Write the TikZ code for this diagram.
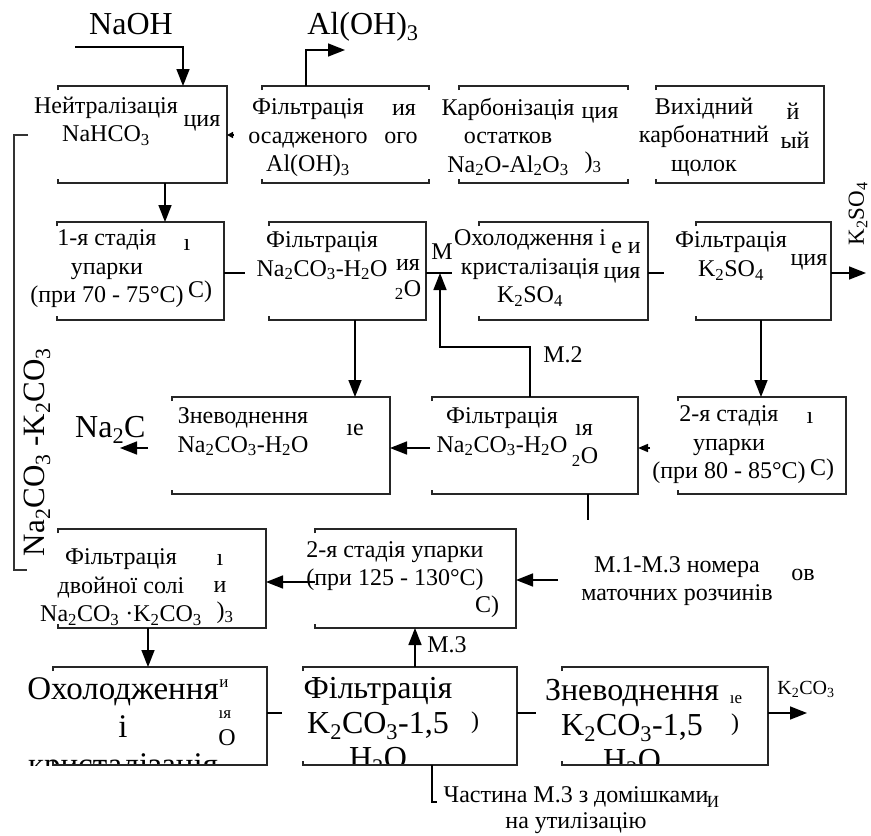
\documentclass[tikz,border=0pt]{standalone}
\usepackage{fontspec}
\setmainfont{Liberation Serif}
\usetikzlibrary{arrows.meta,fit}
\newcommand\sbs[1]{\textsubscript{#1}}
\tikzset{
 frame/.style={inner sep=0pt, outer sep=0pt, draw=none},
 bx/.style={line width=1.1pt, draw=black!85},
 ln/.style={line width=1.6pt, draw=black},
 ar/.style={ln, -{Triangle[length=17pt,width=13pt]}},
 sar/.style={ln, -{Triangle[length=10pt,width=8pt]}},
 tx/.style={inner sep=0pt, align=center, font=\fontsize{24}{28.5}\selectfont},
 big/.style={inner sep=0pt, align=center, font=\fontsize{32}{36}\selectfont},
 frag/.style={inner sep=0pt, font=\fontsize{24}{26}\selectfont},
 sfrag/.style={inner sep=0pt, font=\fontsize{17}{20}\selectfont},
}
\newcommand\boxL[1]{%
 \draw[bx] ([yshift=-4pt]#1.north west) -- (#1.north west) -- (#1.north east) -- (#1.south east) -- (#1.south west) -- ([yshift=4pt]#1.south west);}
\newcommand\boxLR[1]{%
 \draw[bx] ([yshift=-4pt]#1.north west) -- (#1.north west) -- (#1.north east) -- ([yshift=-4pt]#1.north east);
 \draw[bx] ([yshift=4pt]#1.south west) -- (#1.south west) -- (#1.south east) -- ([yshift=4pt]#1.south east);}
\begin{document}
\begin{tikzpicture}[x=1pt,y=-1pt]
\fill[white] (0,0) rectangle (871,836);
\useasboundingbox (0,0) rectangle (871,836);

% ---------- box frames ----------
\node[frame, fit={(58,86)(227,183)}] (b1) {};
\node[frame, fit={(262,86)(429,183)}] (b2) {};
\node[frame, fit={(459,86)(628,183)}] (b3) {};
\node[frame, fit={(656,86)(824,183)}] (b4) {};
\node[frame, fit={(57,222)(224,320)}] (r2a) {};
\node[frame, fit={(269,222)(426,320)}] (r2b) {};
\node[frame, fit={(479,222)(648,320)}] (r2c) {};
\node[frame, fit={(696,222)(831,320)}] (r2d) {};
\node[frame, fit={(172,397)(390,494)}] (r3a) {};
\node[frame, fit={(432,397)(638,494)}] (r3b) {};
\node[frame, fit={(678,397)(846,494)}] (r3c) {};
\node[frame, fit={(58,529)(266,628)}] (r4a) {};
\node[frame, fit={(315,529)(516,628)}] (r4b) {};
\node[frame, fit={(53,667)(267,765)}] (r5a) {};
\node[frame, fit={(303,667)(517,765)}] (r5b) {};
\node[frame, fit={(562,667)(768,765)}] (r5c) {};

% ---------- texts ----------
\node[big] (naoh) at (131,24) {NaOH};
\node[big] (aloh) at (363,27) {Al(OH)\sbs{3}};

\node[tx] (tb1) at (106,121) {Нейтралізація\\NaHCO\sbs{3}};
\node[tx] (tb2) at (308,138) {Фільтрація\\осадженого\\Al(OH)\sbs{3}};
\node[tx] (tb3) at (508,137) {Карбонізація\\остатков\\Na\sbs{2}O-Al\sbs{2}O\sbs{3}};
\node[tx] (tb4) at (704,137) {Вихідний\\карбонатний\\щолок};

\node[tx] (tr2a) at (107,269) {1-я стадія\\упарки\\(при 70 - 75°С)};
\node[tx] (tr2b) at (322,256) {Фільтрація\\Na\sbs{2}CO\sbs{3}-H\sbs{2}O};
\node[tx] (tr2c) at (530,268) {Охолодження і\\кристалізація\\K\sbs{2}SO\sbs{4}};
\node[tx] (tr2d) at (731,256) {Фільтрація\\K\sbs{2}SO\sbs{4}};

\node[tx] (tr3a) at (243,432) {Зневоднення\\Na\sbs{2}CO\sbs{3}-H\sbs{2}O};
\node[tx] (tr3b) at (502,432) {Фільтрація\\Na\sbs{2}CO\sbs{3}-H\sbs{2}O};
\node[tx] (tr3c) at (729,445) {2-я стадія\\упарки\\(при 80 - 85°С)};

\node[tx] (tr4a) at (121,587) {Фільтрація\\двойної солі\\Na\sbs{2}CO\sbs{3} ·K\sbs{2}CO\sbs{3}};
\node[tx] (tr4b) at (395,566) {2-я стадія упарки\\(при 125 - 130°С)};
\node[tx] (tm) at (677,581) {М.1-М.3 номера\\маточних розчинів};

\begin{scope}
\clip (0,667) rectangle (871,765);
\node[big, font=\fontsize{33}{38}\selectfont] (tr5a) at (123,730) {Охолодження\\і\\кристалізація};
\node[big, font=\fontsize{32}{35}\selectfont] (tr5b) at (378,726) {Фільтрація\\K\sbs{2}CO\sbs{3}-1,5\\H\sbs{2}O};
\node[big, font=\fontsize{32}{35}\selectfont] (tr5c) at (632,728) {Зневоднення\\K\sbs{2}CO\sbs{3}-1,5\\H\sbs{2}O};
\end{scope}

\node[tx, font=\fontsize{24}{26}\selectfont] (tch) at (576,810) {Частина М.3 з домішками\\на утилізацію};

\node[frag] (mlab) at (442,252) {М};
\node[frag] (m2) at (563,355) {М.2};
\node[frag] (m3) at (447,645) {М.3};
\node[inner sep=0pt, font=\fontsize{20}{24}\selectfont] (k2co3) at (806,689) {K\sbs{2}CO\sbs{3}};
\node[inner sep=0pt, rotate=90, font=\fontsize{23}{26}\selectfont] (k2so4) at (858,214) {K\sbs{2}SO\sbs{4}};
\node[inner sep=0pt, rotate=90, font=\fontsize{31}{36}\selectfont] (nak) at (37,452) {Na\sbs{2}CO\sbs{3} -K\sbs{2}CO\sbs{3}};
\node[inner sep=0pt, anchor=west, font=\fontsize{32}{36}\selectfont] (na2c) at (75,430) {Na\sbs{2}C};

% ---------- leftover fragments ----------
\node[frag] (f1) at (202,123) {ция};
\node[frag] (f2) at (404,110) {ия};
\node[frag] (f3) at (401,138) {ого};
\node[frag] (f4) at (600,115) {ция};
\node[frag] (f5) at (593,163) {)\sbs{3}};
\node[frag] (f6) at (793,111) {й};
\node[frag] (f7) at (795,140) {ый};
\node[frag] (f8) at (187,245) {ı};
\node[frag] (f9) at (200,292) {С)};
\node[frag] (f10) at (408,265) {ия};
\node[frag] (f11) at (408,290) {\sbs{2}O};
\node[frag] (f12) at (626,248) {е и};
\node[frag] (f13) at (622,275) {ция};
\node[frag] (f14) at (809,262) {ция};
\node[frag] (f15) at (355,430) {ıе};
\node[frag] (f16) at (584,430) {ıя};
\node[frag] (f17) at (585,457) {\sbs{2}O};
\node[frag] (f18) at (810,418) {ı};
\node[frag] (f19) at (822,470) {С)};
\node[frag] (f20) at (220,560) {ı};
\node[frag] (f21) at (220,587) {и};
\node[frag] (f22) at (225,613) {)\sbs{3}};
\node[frag] (f23) at (487,607) {С)};
\node[frag] (f24) at (803,575) {ов};
\node[sfrag] (f25) at (224,684) {и};
\node[sfrag] (f26) at (225,715) {ıя};
\node[frag] (f27) at (227,738) {О};
\node[frag] (f28) at (475,723) {)};
\node[sfrag] (f29) at (736,700) {ıе};
\node[frag] (f30) at (735,725) {)};
\node[sfrag] (f31) at (713,802) {И};

% ---------- frames drawn ----------
\boxL{b1}
\boxLR{b2}
\boxLR{b3}
\boxL{b4}
\boxL{r2a}
\boxL{r2b}
\boxL{r2c}
\boxL{r2d}
\boxL{r3a}
\boxL{r3b}
\boxL{r3c}
\boxL{r4a}
\boxL{r4b}
\boxL{r5a}
\boxL{r5b}
\boxL{r5c}

% ---------- connector end points ----------
\coordinate (naohS) at (75,47);
\coordinate (alohE) at (345,50);
\coordinate (naOut) at (120,448);
\coordinate (k2so4E) at (866,273);
\coordinate (k2co3E) at (807,713);
\coordinate (loopS) at (28,135);
\coordinate (loopE) at (27,570);
\coordinate (chS) at (437,802);

% ---------- connectors ----------
\draw[ar] (naohS) -- (183,47) -- (b1.north -| 183,0);
\draw[ar] (b2.north -| 306,0) -- (306,50) -- (alohE);
\draw[ln, -{Triangle[length=6pt,width=6pt]}] (233,135) -- (b1.east |- 0,135);
\draw[ln, line width=1.3pt, draw=black!80] (loopS) -- (14,135) -- (14,570) -- (loopE);
\draw[ar] (b1.south -| 165,0) -- (r2a.north -| 165,0);
\draw[ln] (r2a.east |- 0,273) -- (245,273);
\draw[ln] (r2b.east |- 0,273) -- (452,273);
\draw[ar] (r3b.north -| 530,0) -- (530,347) -- (440,347) -- (440,273);
\draw[ln] (r2c.east |- 0,273) -- (664,273);
\draw[ar] (r2d.east |- 0,273) -- (k2so4E);
\draw[ar] (r2d.south -| 761,0) -- (r3c.north -| 761,0);
\draw[ar] (r2b.south -| 355,0) -- (r3a.north -| 355,0);
\draw[ar] (430,448) -- (r3a.east |- 0,448);
\draw[ar] (148,448) -- (naOut);
\draw[sar] (650,448) -- (r3b.east |- 0,448);
\draw[ln, line width=1.3pt] (r3b.south -| 588,0) -- (588,520);
\draw[ar] (r4b.west |- 0,582) -- (r4a.east |- 0,582);
\draw[ar] (558,580) -- (r4b.east |- 0,580);
\draw[ar] (r4a.south -| 148,0) -- (r5a.north -| 148,0);
\draw[ln] (r5a.east |- 0,713) -- (282,713);
\draw[ar] (r5b.north -| 415,0) -- (r4b.south -| 415,0);
\draw[ln] (r5b.east |- 0,713) -- (536,713);
\draw[ar] (r5c.east |- 0,713) -- (k2co3E);
\draw[ln, line width=1.2pt] (r5b.south -| 432,0) -- (432,802) -- (chS);
\end{tikzpicture}
\end{document}
